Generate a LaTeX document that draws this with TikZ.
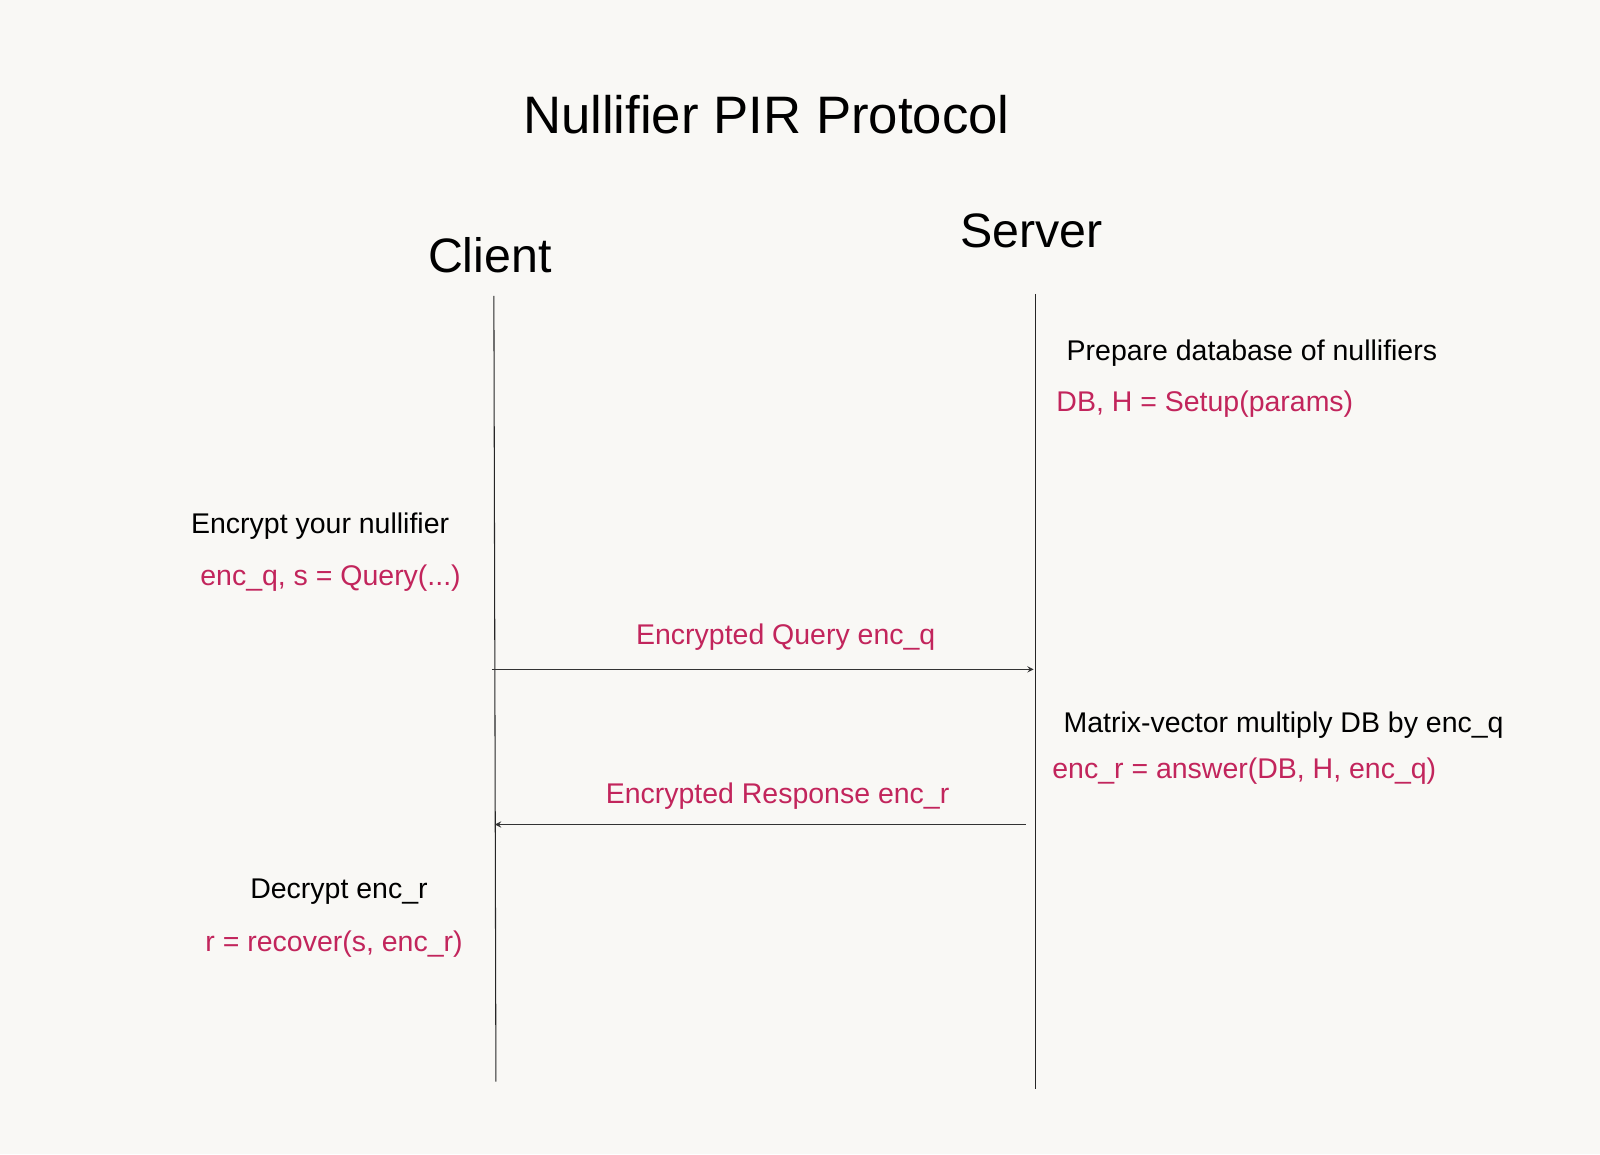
\documentclass[tikz,border=0pt]{standalone}
\usepackage{fontspec}
\setmainfont{Liberation Sans}
\begin{document}
\begin{tikzpicture}[x=0.020408cm,y=-0.020408cm,
  blk/.style={text=black,inner sep=0pt,font=\fontsize{16.2}{18}\selectfont},
  red/.style={text=rd,inner sep=0pt,font=\fontsize{16.2}{18}\selectfont},
  hdr/.style={inner sep=0pt,font=\fontsize{27.5}{30}\selectfont},
  life/.style={draw=black!85,line width=0.6pt},
  msg/.style={draw=black!80,line width=0.6pt,-stealth}]
\definecolor{rd}{HTML}{C2255C}
\definecolor{bg}{HTML}{F9F8F5}
\fill[bg] (0,0) rectangle (1568,1131);
\useasboundingbox (0,0) rectangle (1568,1131);
\node[hdr,font=\fontsize{30}{33}\selectfont] (title) at (751,112) {Nullifier PIR Protocol};
\node[hdr] (client) at (480,250) {Client};
\node[hdr] (server) at (1011,226) {Server};
\coordinate (c1) at (484,290); \coordinate (c2) at (486,1060);
\coordinate (s1) at (1015,288); \coordinate (s2) at (1015,1067);
\draw[life] (c1) -- (c2);
\draw[life] (s1) -- (s2);
\node[blk,anchor=west] (prep) at (1045,346) {Prepare database of nullifiers};
\node[red,anchor=west] (setup) at (1035,396) {DB, H = Setup(params)};
\node[blk,anchor=west] (enc) at (187,516) {Encrypt your nullifier};
\node[red,anchor=west] (query) at (196,567) {enc\_q, s = Query(...)};
\node[red] (eq) at (770,624) {Encrypted Query enc\_q};
\coordinate (a1) at (482,656); \coordinate (a2) at (1013,656);
\draw[msg] (a1) -- (a2);
\node[blk,anchor=west] (mv) at (1042,711) {Matrix-vector multiply DB by enc\_q};
\node[red,anchor=west] (ans) at (1031,756) {enc\_r = answer(DB, H, enc\_q)};
\node[red] (er) at (762,780) {Encrypted Response enc\_r};
\coordinate (b1) at (1005,808); \coordinate (b2) at (485,808);
\draw[msg] (b1) -- (b2);
\node[blk,anchor=west] (dec) at (245,874) {Decrypt enc\_r};
\node[red,anchor=west] (rec) at (201,925) {r = recover(s, enc\_r)};
\end{tikzpicture}
\end{document}
